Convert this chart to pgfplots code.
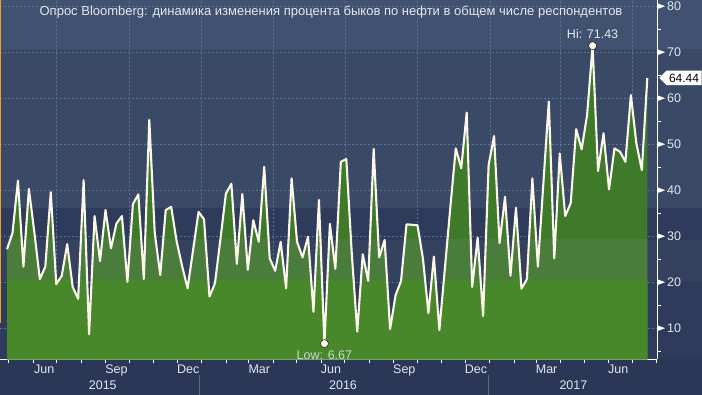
\documentclass[border=0pt]{standalone}
\usepackage{fontspec}
\setmainfont{Liberation Sans}
\usepackage{pgfplots}
\usepackage{pgfplotstable}
\pgfplotsset{compat=1.18}
\usetikzlibrary{shapes.symbols}

\definecolor{bgOut}{HTML}{2B3756}
\definecolor{bgDark}{HTML}{2E3B5A}
\definecolor{bgBand}{HTML}{35425F}
\definecolor{bgMid}{HTML}{3A4966}
\definecolor{bgTop}{HTML}{415270}
\definecolor{gridc}{HTML}{587596}
\definecolor{gTop}{HTML}{3F7A2B}
\definecolor{gMid}{HTML}{4A7C3C}
\definecolor{gBot}{HTML}{48882B}
\definecolor{linec}{HTML}{FBF5EA}
\definecolor{txt}{HTML}{E2E8F0}
\definecolor{orangec}{HTML}{F0A028}

\pgfplotstableread{
v
27.2
30.7
42.1
23.4
40.3
30.8
20.7
23.4
39.6
19.6
21.4
28.3
19.0
16.4
42.2
8.7
34.4
24.6
35.7
27.4
32.8
34.4
20.1
37.0
39.1
20.7
55.3
30.7
21.6
35.7
36.4
28.9
23.5
18.7
27.0
35.3
33.7
16.9
19.8
29.4
39.3
41.4
24.0
39.2
22.7
33.5
28.8
45.1
25.2
22.5
28.8
18.7
42.6
28.8
25.4
29.9
13.6
37.9
6.67
32.7
22.9
46.2
46.8
26.2
9.3
26.1
20.3
49.0
25.4
29.2
9.8
17.2
20.3
32.6
32.5
32.4
25.2
13.3
25.6
9.6
22.9
36.2
49.1
44.8
56.9
19.0
29.7
12.7
45.5
51.8
28.5
38.6
21.4
36.2
18.6
20.7
42.6
23.4
41.4
59.3
25.2
48.0
34.4
37.2
53.3
48.9
56.4
71.43
44.2
52.4
40.2
49.1
48.4
46.2
60.7
50.2
44.4
64.44
}\bulls

\begin{document}
\begin{tikzpicture}
\begin{axis}[
  set layers=standard,
  scale only axis, width=657pt, height=359.3pt,
  xmin=-1.28, xmax=118.77, ymin=3.26, ymax=81.37,
  clip=false,
  axis x line*=bottom, axis y line*=right,
  axis line style={white, line width=1pt},
  tick align=outside,
  xtick={9.08,22.32,35.55,48.65,61.74,74.98,88.22,101.17,114.26},
  minor xtick={0.30,4.76,13.54,18.00,26.78,31.09,40.01,44.19,52.96,57.42,66.20,70.66,79.44,83.75,92.68,96.71,105.48,109.94,118.72},
  xticklabels={},
  ytick={10,20,...,80},
  minor ytick={5,15,...,75},
  major tick length=4pt, minor tick length=4pt,
  every tick/.style={white, line width=0.8pt},
  major y tick style={draw=none},
  grid=major,
  major grid style={gridc, dash pattern=on 2pt off 2pt, line width=0.6pt},
  /pgf/number format/assume math mode=true,
  yticklabel={\tikz[baseline=-4.4pt]\fill[white] (0,-2.6pt)--(7pt,0pt)--(0,2.6pt)--cycle;\hspace{2pt}\pgfmathprintnumber{\tick}},
  yticklabel style={anchor=west, inner sep=0pt, xshift=-3pt, text=txt, font=\fontsize{12.5}{14}\selectfont},
]
\begin{pgfonlayer}{axis background}
\fill[bgOut] (rel axis cs:0,-0.09936) rectangle (rel axis cs:1.0685,1);
\fill[bgDark] (rel axis cs:0,0) rectangle (rel axis cs:1.0685,1);
\fill[bgBand] (rel axis cs:0,0.2182) rectangle (rel axis cs:1.0685,0.3320);
\fill[bgMid] (rel axis cs:0,0.4205) rectangle (rel axis cs:1.0685,0.8633);
\fill[bgTop] (rel axis cs:0,0.8633) rectangle (rel axis cs:1.0685,1);
\end{pgfonlayer}
\begin{scope}
\clip (axis cs:-2,3.26) rectangle (axis cs:120,81.37);
\addplot[fill=gTop, draw=none] table[x expr=\coordindex, y=v]{\bulls} \closedcycle;
\end{scope}
\begin{scope}
\clip (axis cs:-2,3.26) rectangle (axis cs:120,29.2);
\addplot[fill=gMid, draw=none] table[x expr=\coordindex, y=v]{\bulls} \closedcycle;
\end{scope}
\begin{scope}
\clip (axis cs:-2,3.26) rectangle (axis cs:120,20.3);
\addplot[fill=gBot, draw=none] table[x expr=\coordindex, y=v]{\bulls} \closedcycle;
\end{scope}
\addplot[linec, line width=2.1pt, line join=round] table[x expr=\coordindex, y=v]{\bulls};
\addplot[only marks, mark=*, mark size=4pt, mark options={fill=linec, draw=none}] coordinates {(58,6.67) (107,71.43)};
\node[text=txt, anchor=south, font=\fontsize{12.5}{14}\selectfont] at (axis cs:107,71.43) [yshift=3.5pt] {Hi: 71.43};
\node[text=txt!85!gTop, anchor=north, font=\fontsize{12.5}{14}\selectfont] at (axis cs:58,6.67) [yshift=-4pt] {Low: 6.67};
\node[signal, signal to=west, fill=white, text=black, inner xsep=2.5pt, inner ysep=3pt, font=\fontsize{12}{14}\selectfont, anchor=west] at (axis cs:118.77,64.44) [xshift=2pt] {64.44};
\foreach \w/\m in {6.8/Jun,20.0/Sep,33.1/Dec,46.1/Mar,59.2/Jun,72.6/Sep,85.7/Dec,98.6/Mar,111.7/Jun}{
  \edef\tmp{\noexpand\node[text=txt, anchor=base, font=\noexpand\fontsize{12.5}{14}\noexpand\selectfont] at (axis cs:\w,3.26) [yshift=-14.7pt] {\m};}\tmp
}
\foreach \w/\m in {17.5/2015,61.4/2016,103.5/2017}{
  \edef\tmp{\noexpand\node[text=txt, anchor=base, font=\noexpand\fontsize{12.5}{14}\noexpand\selectfont] at (axis cs:\w,3.26) [yshift=-30.7pt] {\m};}\tmp
}
\end{axis}
\draw[orangec, line width=1.3pt] (0.65pt,36.3pt) -- (0.65pt,359.3pt);
\draw[gray!70!bgOut, line width=0.8pt] (199.5pt,-15.7pt) -- (199.5pt,-35.7pt);
\draw[gray!70!bgOut, line width=0.8pt] (488.5pt,-15.7pt) -- (488.5pt,-35.7pt);
\node[text=txt, font=\fontsize{13}{15}\selectfont] at (331pt,347.3pt) {Опрос Bloomberg: динамика изменения процента быков по нефти в общем числе респондентов};
\pgfresetboundingbox
\path (0pt,-35.7pt) rectangle (702pt,359.3pt);
\end{tikzpicture}
\end{document}
